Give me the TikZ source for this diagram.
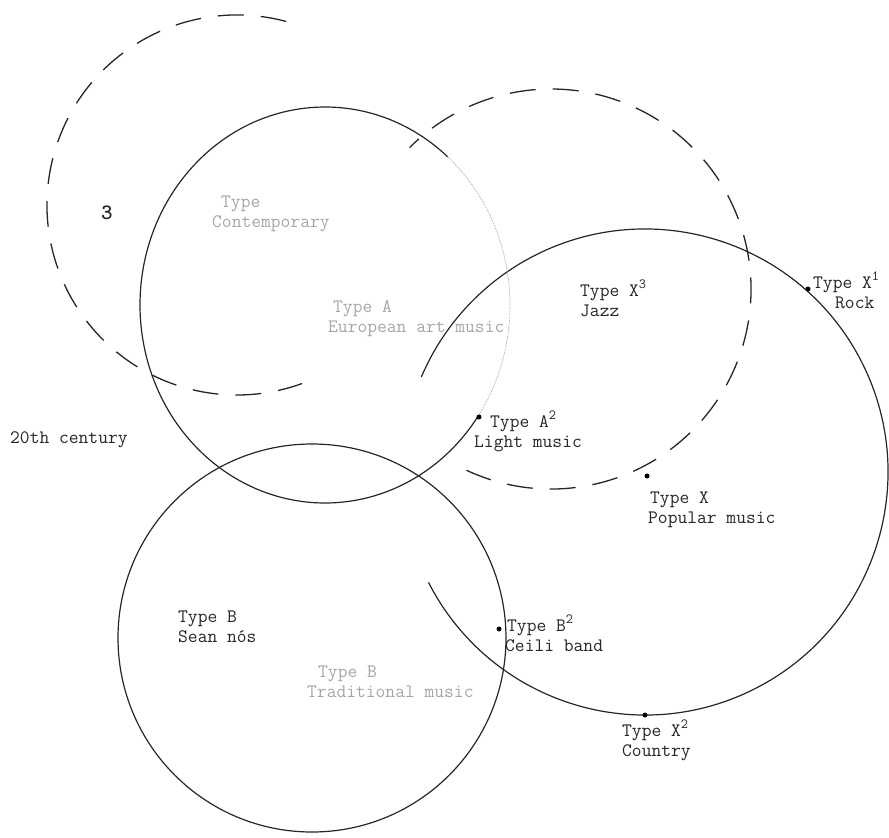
\documentclass[tikz,border=0pt]{standalone}
\usepackage{fontspec}
\begin{document}
\begin{tikzpicture}[x=1pt,y=-1pt,
  lbl/.style={font=\ttfamily\fontsize{19}{19}\selectfont\addfontfeature{LetterSpace=8}, inner sep=0pt, anchor=base west, text=black!85},
  faded/.style={lbl, text=black!35},
  dotmark/.style={circle, fill=black, inner sep=0pt, minimum size=5pt},
  ring/.style={line width=1.2pt, black!85},
  faint/.style={line width=0.8pt, black!35, densely dotted},
  dashring/.style={line width=1.3pt, black!85, dash pattern=on 26pt off 17pt}]
\newcommand{\sups}[1]{\raisebox{8pt}{\fontsize{14}{14}\selectfont #1}}
\useasboundingbox (0,0) rectangle (889,838);
% centres
\coordinate (cP) at (645,472);
\coordinate (cJ) at (551,289);
\coordinate (cD) at (237,205);
\coordinate (cA) at (325,305);
\coordinate (cB) at (312,638);
% Popular music circle (gap on the left)
\draw[ring] ([shift={(-153:243pt)}]cP) arc[start angle=-153, end angle=157, radius=243pt];
% Traditional music circle
\draw[ring] (cB) circle[radius=194pt];
% European art music (ellipse-like), right part faint
\draw[ring] ([shift={(48.5:185pt and 198pt)}]cA) arc[start angle=48.5, end angle=326, x radius=185pt, y radius=198pt];
\draw[faint] ([shift={(-34:185pt and 198pt)}]cA) arc[start angle=-34, end angle=48.5, x radius=185pt, y radius=198pt];
% dashed circles
\draw[dashring] ([shift={(75:190pt)}]cD) arc[start angle=75, end angle=290, radius=190pt];
\draw[dashring] ([shift={(-115:200pt)}]cJ) arc[start angle=-115, end angle=135, radius=200pt];
% dots
\node[dotmark] (dX1) at (808,289) {};
\node[dotmark] (dX) at (647,476) {};
\node[dotmark] (dX2) at (645,715) {};
\node[dotmark] (dA2) at (479,417) {};
\node[dotmark] (dB2) at (499,629) {};
% labels
\node[lbl, font=\bfseries\ttfamily\fontsize{22}{22}\selectfont] (l3) at (101,219) {3};
\node[faded] (lT1) at (221,207) {Type};
\node[faded] (lC1) at (212,227) {Contemporary};
\node[faded] (lTA) at (333,312) {Type A};
\node[faded] (lEA) at (328,332) {European art music};
\node[lbl] (lTX3) at (580,296) {Type X\sups{3}};
\node[lbl] (lJz) at (580,316) {Jazz};
\node[lbl] (lTX1) at (813,288) {Type X\sups{1}};
\node[lbl] (lRk) at (835,308) {Rock};
\node[lbl] (l20) at (10,443) {20th century};
\node[lbl] (lTA2) at (490,427) {Type A\sups{2}};
\node[lbl] (lLM) at (474,447) {Light music};
\node[lbl] (lTX) at (650,503) {Type X};
\node[lbl] (lPM) at (648,523) {Popular music};
\node[lbl] (lTB) at (178,622) {Type B};
\node[lbl] (lSN) at (178,642) {Sean nós};
\node[faded] (lTB0) at (318,677) {Type B};
\node[faded] (lTM) at (307,697) {Traditional music};
\node[lbl] (lTB2) at (507,631) {Type B\sups{2}};
\node[lbl] (lCB) at (505,651) {Ceili band};
\node[lbl] (lTX2) at (622,736) {Type X\sups{2}};
\node[lbl] (lCo) at (622,756) {Country};
\end{tikzpicture}
\end{document}
